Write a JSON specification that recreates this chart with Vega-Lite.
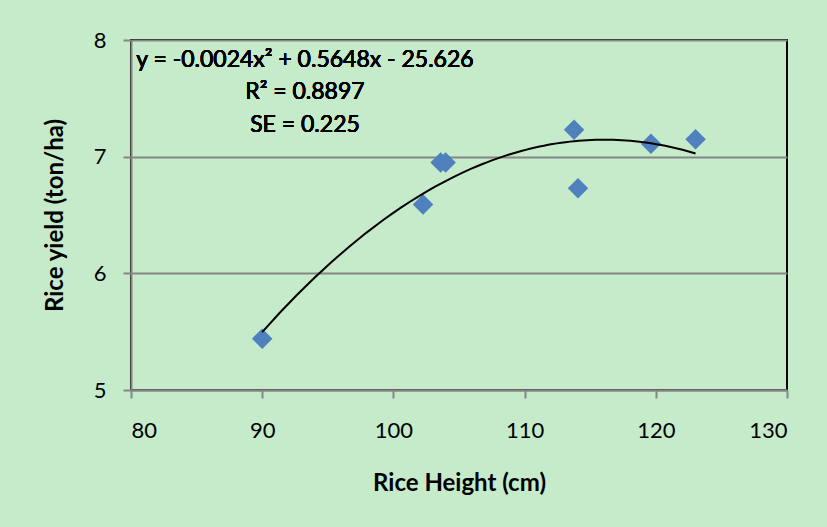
{
  "$schema": "https://vega.github.io/schema/vega-lite/v6.json",
  "width": 656,
  "height": 350,
  "autosize": "none",
  "padding": {"left": 131, "top": 40, "right": 40, "bottom": 137},
  "background": "#c6ebcb",
  "config": {
    "view": {"stroke": "#000000", "strokeWidth": 2},
    "font": "Lato",
    "axis": {
      "domainColor": "#868686",
      "domainWidth": 2,
      "tickColor": "#868686",
      "tickWidth": 2,
      "tickSize": 8,
      "labelFont": "Lato",
      "labelFontSize": 22,
      "labelFontWeight": "normal",
      "labelColor": "#000000",
      "titleFont": "Lato",
      "titleFontSize": 24,
      "titleFontWeight": "bold",
      "titleColor": "#000000",
      "gridColor": "#868686",
      "gridWidth": 2,
      "zindex": 1
    }
  },
  "data": {
    "values": [
      {"height": 90.0, "yield": 5.44},
      {"height": 102.26, "yield": 6.59},
      {"height": 103.6, "yield": 6.95},
      {"height": 103.98, "yield": 6.95},
      {"height": 113.77, "yield": 7.23},
      {"height": 114.07, "yield": 6.73},
      {"height": 119.63, "yield": 7.11},
      {"height": 123.03, "yield": 7.15}
    ]
  },
  "layer": [
    {
      "mark": {"type": "point", "shape": "diamond", "filled": true, "color": "#4f81bd", "opacity": 1, "size": 420},
      "encoding": {
        "x": {"field": "height", "type": "quantitative", "scale": {"domain": [80, 130], "nice": false, "zero": false},
              "axis": {"values": [80, 90, 100, 110, 120, 130], "grid": false, "title": "Rice Height (cm)", "labelPadding": 22, "titlePadding": 30}},
        "y": {"field": "yield", "type": "quantitative", "scale": {"domain": [5, 8], "nice": false, "zero": false},
              "axis": {"values": [5, 6, 7, 8], "format": "d", "grid": true, "title": "Rice yield (ton/ha)", "labelPadding": 17, "titlePadding": 26}}
      }
    },
    {
      "transform": [{"regression": "yield", "on": "height", "method": "poly", "order": 2}],
      "mark": {"type": "line", "color": "#000000", "strokeWidth": 2},
      "encoding": {
        "x": {"field": "height", "type": "quantitative"},
        "y": {"field": "yield", "type": "quantitative"}
      }
    },
    {
      "mark": {"type": "text", "fontSize": 23, "fontWeight": "normal", "font": "Lato", "align": "center", "baseline": "middle", "fill": "#000000", "stroke": null},
      "encoding": {"x": {"datum": 93.26}, "y": {"datum": 7.83}, "text": {"value": "y = -0.0024x² + 0.5648x - 25.626"}}
    },
    {
      "mark": {"type": "text", "fontSize": 23, "fontWeight": "normal", "font": "Lato", "align": "center", "baseline": "middle", "fill": "#000000", "stroke": null},
      "encoding": {"x": {"datum": 93.26}, "y": {"datum": 7.554}, "text": {"value": "R² = 0.8897"}}
    },
    {
      "mark": {"type": "text", "fontSize": 23, "fontWeight": "normal", "font": "Lato", "align": "center", "baseline": "middle", "fill": "#000000", "stroke": null},
      "encoding": {"x": {"datum": 93.26}, "y": {"datum": 7.27}, "text": {"value": "SE = 0.225"}}
    }
  ]
}
